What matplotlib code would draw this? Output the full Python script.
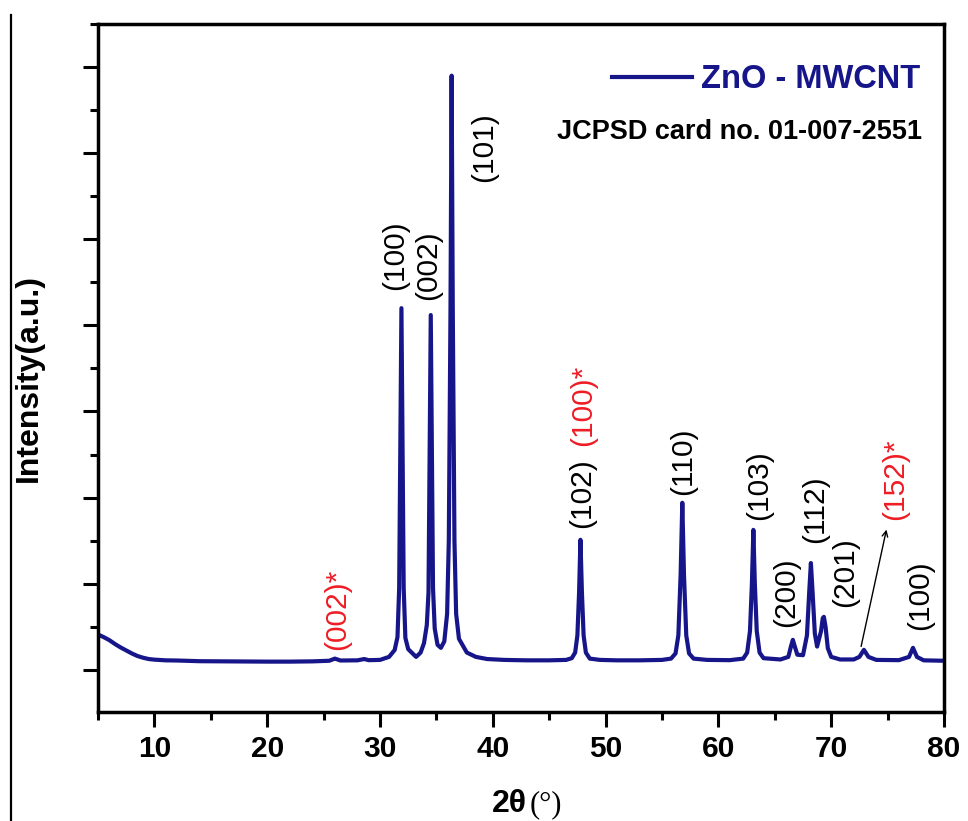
import numpy as np
import matplotlib
matplotlib.use("Agg")
import matplotlib.pyplot as plt
from matplotlib.lines import Line2D
from matplotlib.ticker import MultipleLocator

# XRD pattern (2theta in degrees, intensity in a.u.)
two_theta = [
    5.0, 5.5, 6.0, 6.5, 7.0, 7.5, 8.0, 8.5, 9.0, 9.5, 10.0, 11.0, 12.0, 14.0,
    16.0, 18.0, 20.0, 22.0, 24.0, 25.5, 26.0, 26.5, 28.0, 28.6, 29.0, 30.0,
    30.8, 31.3, 31.55, 31.7, 31.8, 31.9, 32.0, 32.1, 32.25, 32.5, 33.2,
    33.6, 33.9, 34.15, 34.3, 34.4, 34.5, 34.6, 34.7, 34.85, 35.1, 35.4,
    35.7, 35.95, 36.1, 36.25, 36.35, 36.45, 36.6, 36.75, 37.0, 37.7, 38.5,
    39.5, 41.0, 43.0, 45.0, 46.5, 47.0, 47.3, 47.5, 47.65, 47.77, 47.9,
    48.05, 48.25, 48.6, 49.5, 51.0, 53.0, 55.0, 55.8, 56.2, 56.45, 56.65,
    56.8, 56.95, 57.15, 57.4, 57.8, 59.0, 61.0, 62.2, 62.55, 62.8, 62.97,
    63.1, 63.23, 63.4, 63.65, 64.0, 65.5, 66.2, 66.45, 66.6, 66.75, 67.0,
    67.5, 67.85, 68.05, 68.2, 68.35, 68.55, 68.75, 69.1, 69.25, 69.35,
    69.5, 69.7, 70.0, 70.8, 72.0, 72.5, 72.9, 73.3, 74.0, 76.0, 76.9,
    77.25, 77.6, 78.2, 80.0,
]
intensity = [
    410, 380, 345, 300, 260, 225, 190, 160, 140, 125, 118, 110, 108, 100,
    98, 95, 95, 95, 98, 105, 130, 108, 110, 125, 112, 115,
    150, 230, 380, 950, 2600, 4200, 2600, 950, 370, 240, 150,
    200, 310, 520, 900, 2500, 4120, 2500, 950, 480, 290, 255,
    330, 650, 1500, 4200, 6900, 4200, 1500, 650, 360, 200, 150,
    125, 115, 110, 110, 115, 135, 200, 400, 900, 1510, 900,
    400, 200, 130, 115, 110, 110, 115, 130, 190, 400, 1100,
    1940, 1100, 400, 190, 130, 115, 112, 130, 200, 450, 1000,
    1625, 1000, 450, 200, 135, 120, 150, 280, 348, 280, 175,
    170, 400, 900, 1240, 900, 420, 270, 450, 600, 615,
    500, 250, 150, 120, 120, 150, 232, 150, 115, 112, 150,
    255, 150, 110, 105,
]

# peak labels: text, x, y (bottom of rotated text), colour
label_text = ["(002)*", "(100)", "(002)", "(101)", "(100)*", "(102)", "(110)",
              "(103)", "(200)", "(112)", "(201)", "(152)*", "(100)"]
label_x = [26.2, 31.3, 34.3, 39.2, 48.0, 47.9, 56.9, 63.6, 66.0, 68.6, 71.2, 75.7, 77.9]
label_y = [230, 4410, 4300, 5670, 2600, 1650, 2030, 1740, 500, 1475, 730, 1740, 465]
label_red = [True, False, False, False, True, False, False,
             False, False, False, False, True, False]

arrow_start = (72.6, 240)
arrow_end = (74.95, 1660)

navy = "#16168a"
red = "#ee1c25"

plt.rcParams["font.family"] = ["Liberation Sans", "DejaVu Sans"]

fig = plt.figure(figsize=(9.68, 8.21), dpi=100)
ax = fig.add_axes([98 / 968, 1 - 712 / 821, 846 / 968, 688 / 821])

ax.plot(two_theta, intensity, color=navy, lw=3.0, label="ZnO - MWCNT",
        solid_joinstyle="round")

ax.set_xlim(5, 80)
ax.set_ylim(-490, 7500)
ax.xaxis.set_major_locator(MultipleLocator(10))
ax.xaxis.set_minor_locator(MultipleLocator(5))
ax.yaxis.set_major_locator(MultipleLocator(1000))
ax.yaxis.set_minor_locator(MultipleLocator(500))
ax.tick_params(which="both", direction="out", width=2.2, top=False, right=False)
ax.tick_params(which="major", length=10.8)
ax.tick_params(which="minor", length=5.8)
ax.tick_params(axis="y", labelleft=False)
ax.tick_params(axis="x", labelsize=21.5, pad=6)
for lab in ax.get_xticklabels():
    lab.set_fontweight("bold")
for sp in ax.spines.values():
    sp.set_linewidth(2.5)

for t, x, y, r in zip(label_text, label_x, label_y, label_red):
    ax.text(x, y, t, rotation=90, ha="center", va="bottom", fontsize=21.5,
            color=red if r else "black")

ax.annotate("", xy=arrow_end, xytext=arrow_start,
            arrowprops=dict(arrowstyle="->", lw=1.0, color="black"))

leg = ax.legend(loc="center right", bbox_to_anchor=(920 / 968, 1 - 80 / 821),
                bbox_transform=fig.transFigure, frameon=False, borderpad=0,
                borderaxespad=0, handlelength=2.45, handletextpad=0.27,
                prop={"weight": "bold", "size": 23.5})
for txt in leg.get_texts():
    txt.set_color(navy)

fig.text(922 / 968, 1 - 132 / 821, "JCPSD card no. 01-007-2551", ha="right",
         va="center", fontsize=19.5, fontweight="bold")

ax.set_ylabel("Intensity(a.u.)", fontsize=23, fontweight="bold")
ax.yaxis.set_label_coords(44 / 968, 1 - 378 / 821, transform=fig.transFigure)

fig.text(527 / 968, 1 - 812 / 821, "2θ", ha="right", va="baseline",
         fontsize=23, fontweight="bold")
fig.text(530 / 968, 1 - 812 / 821, "(°)", ha="left", va="baseline",
         fontsize=22, family="Liberation Serif")

fig.add_artist(Line2D([11 / 968, 11 / 968], [0, 1 - 15 / 821], color="black",
                      lw=1.6, transform=fig.transFigure))

fig.savefig("out.png", dpi=100)
